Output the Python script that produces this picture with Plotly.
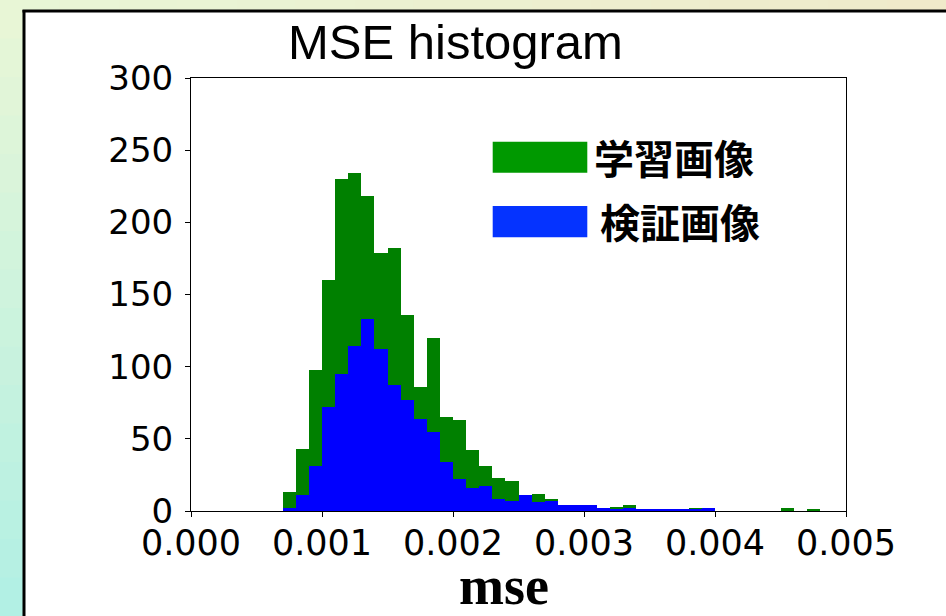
import plotly.graph_objects as go

# ---- data (histogram counts, bins of width 0.0001 starting at 0.0007) ----
bin_start = 0.0007
bin_width = 0.0001
train_counts = [13, 43, 98, 160, 230, 234, 218, 179, 182, 136,
                86, 120, 65, 63, 42, 31, 23, 21, 11, 12,
                8, 4, 4, 4, 2, 3, 4, 1, 1, 1,
                1, 2, 2, 0, 0, 0, 0, 0, 2, 0,
                1]
val_counts = [2, 11, 31, 72, 95, 114, 133, 112, 87, 77,
              64, 55, 34, 22, 16, 17, 8, 7, 11, 6,
              7, 4, 4, 4, 2, 1, 2, 1, 1, 1,
              1, 1, 2, 0, 0, 0, 0, 0, 0, 0,
              0]
x_ticks = [0.000, 0.001, 0.002, 0.003, 0.004, 0.005]
y_ticks = [0, 50, 100, 150, 200, 250, 300]
legend_labels = ["学習画像", "検証画像"]
title_text = "MSE histogram"
x_label = "mse"

W, H = 946, 616
L, R, T, B = 191, 846, 78, 511


def px(x):
    return (x - L) / (R - L)


def py(y):
    return (B - y) / (B - T)


centers_t = [bin_start + bin_width * (i + 0.5) for i in range(len(train_counts))]
centers_v = [bin_start + bin_width * (i + 0.5) for i in range(len(val_counts))]

fig = go.Figure()
fig.add_trace(go.Bar(x=centers_t, y=train_counts, width=bin_width,
                     marker=dict(color="#008000", line=dict(width=0)),
                     name=legend_labels[0], showlegend=False))
fig.add_trace(go.Bar(x=centers_v, y=val_counts, width=bin_width,
                     marker=dict(color="#0000ff", line=dict(width=0)),
                     name=legend_labels[1], showlegend=False))

shapes = []
# background gradient strips (slide background)
n = 16
top_c = (232, 246, 214)
bot_c = (178, 240, 228)
right_c = (240, 234, 202)
for i in range(n):
    f = i / (n - 1)
    c = tuple(int(round(top_c[k] + (bot_c[k] - top_c[k]) * f)) for k in range(3))
    y0 = i * H / n
    y1 = (i + 1) * H / n + 1
    shapes.append(dict(type="rect", xref="paper", yref="paper", layer="below",
                       x0=px(0), x1=px(24), y0=py(y1), y1=py(y0),
                       fillcolor="rgb(%d,%d,%d)" % c, line=dict(width=0)))
for i in range(n):
    f = i / (n - 1)
    c = tuple(int(round(top_c[k] + (right_c[k] - top_c[k]) * f)) for k in range(3))
    x0 = i * W / n
    x1 = (i + 1) * W / n + 1
    shapes.append(dict(type="rect", xref="paper", yref="paper", layer="below",
                       x0=px(x0), x1=px(x1), y0=py(11), y1=py(0),
                       fillcolor="rgb(%d,%d,%d)" % c, line=dict(width=0)))
# panel border
shapes.append(dict(type="line", xref="paper", yref="paper", layer="below",
                   x0=px(24), x1=px(24), y0=py(620), y1=py(10),
                   line=dict(color="#000000", width=3)))
shapes.append(dict(type="line", xref="paper", yref="paper", layer="below",
                   x0=px(22.5), x1=px(950), y0=py(11), y1=py(11),
                   line=dict(color="#000000", width=3)))
# legend patches
shapes.append(dict(type="rect", xref="paper", yref="paper",
                   x0=px(492.7), x1=px(587.3), y0=py(172.7), y1=py(141.7),
                   fillcolor="#009900", line=dict(width=0)))
shapes.append(dict(type="rect", xref="paper", yref="paper",
                   x0=px(492.7), x1=px(587.3), y0=py(237.3), y1=py(206),
                   fillcolor="#0533ff", line=dict(width=0)))

annotations = [
    dict(text=title_text, xref="paper", yref="paper", x=px(455), y=py(42),
         xanchor="center", yanchor="middle", showarrow=False,
         font=dict(family="Liberation Sans, Arial, sans-serif", size=49, color="#000")),
    dict(text="<b>%s</b>" % x_label, xref="paper", yref="paper", x=px(504), y=py(586),
         xanchor="center", yanchor="middle", showarrow=False,
         font=dict(family="Liberation Serif, Times New Roman, serif", size=54, color="#000")),
    dict(text="<b>%s</b>" % legend_labels[0], xref="paper", yref="paper", x=px(592), y=py(157),
         xanchor="left", yanchor="middle", showarrow=False,
         font=dict(family="Noto Sans CJK JP", size=40, color="#000")),
    dict(text="<b>%s</b>" % legend_labels[1], xref="paper", yref="paper", x=px(598), y=py(221),
         xanchor="left", yanchor="middle", showarrow=False,
         font=dict(family="Noto Sans CJK JP", size=40, color="#000")),
]

fig.update_layout(
    width=W, height=H,
    margin=dict(l=L, r=W - R, t=T, b=H - B, pad=0),
    paper_bgcolor="#ffffff", plot_bgcolor="#ffffff",
    barmode="overlay", bargap=0,
    shapes=shapes, annotations=annotations,
    showlegend=False,
    xaxis=dict(range=[0, 0.005], tickvals=x_ticks,
               ticktext=["%.3f" % v for v in x_ticks],
               ticks="outside", ticklen=5, tickwidth=1, tickcolor="#000",
               ticklabelstandoff=-4,
               showline=True, linecolor="#000", linewidth=1, mirror=True,
               showgrid=False, zeroline=False,
               tickfont=dict(family="DejaVu Sans", size=35, color="#000")),
    yaxis=dict(range=[0, 300], tickvals=y_ticks,
               ticks="outside", ticklen=5, tickwidth=1, tickcolor="#000",
               ticklabelstandoff=5,
               showline=True, linecolor="#000", linewidth=1, mirror=True,
               showgrid=False, zeroline=False,
               tickfont=dict(family="DejaVu Sans", size=34, color="#000")),
)

fig.write_html("out.html",
               config={"displayModeBar": False},
               post_script="document.body.style.margin='0px';"
                           "document.body.style.overflow='hidden';")
